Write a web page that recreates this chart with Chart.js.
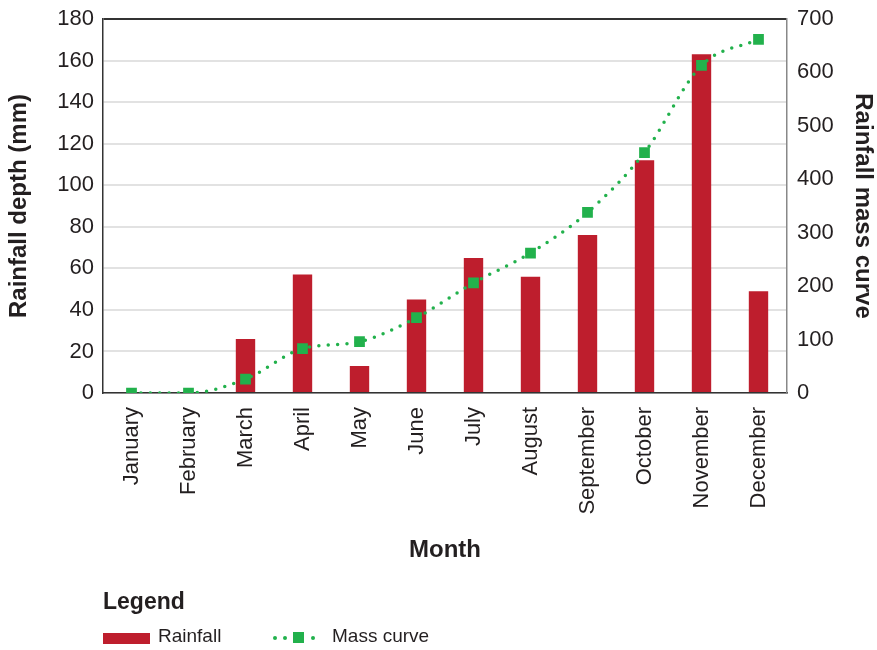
<!DOCTYPE html>
<html>
<head>
<meta charset="utf-8">
<script src="https://cdn.jsdelivr.net/npm/chart.js@4/dist/chart.umd.min.js"></script>
<style>
  body { margin: 0; background: #fff; }
  #wrap { position: relative; width: 877px; height: 650px; }
  #legend { position: absolute; left: 103px; top: 588px; font-family: "Liberation Sans", Arial, sans-serif; color: #231f20; }
  #legend h3 { margin: 0; font-size: 23px; font-weight: bold; }
  .item { position: absolute; top: 40px; white-space: nowrap; font-size: 19px; }
  .swatch { position: absolute; background: #be1e2d; width: 47px; height: 11px; top: 5px; left: 0; }
  .dot { position: absolute; width: 4px; height: 4px; border-radius: 50%; background: #22b14c; top: 8px; }
  .sq { position: absolute; width: 11px; height: 11px; background: #22b14c; top: 4px; }
</style>
</head>
<body>
<div id="wrap">
  <canvas id="chart1" width="877" height="650"></canvas>
  <div id="legend">
    <h3>Legend</h3>
    <div class="item" style="left:0">
      <span class="swatch"></span><span style="position:absolute;left:55px;top:-3px">Rainfall</span>
    </div>
    <div class="item" style="left:170px">
      <span class="dot" style="left:0"></span><span class="dot" style="left:10px"></span>
      <span class="dot" style="left:20px"></span><span class="sq" style="left:20px"></span>
      <span class="dot" style="left:38px"></span>
      <span style="position:absolute;left:59px;top:-3px">Mass curve</span>
    </div>
  </div>
</div>
<script>
// Monthly rainfall and its cumulative mass curve

const months = ['January', 'February', 'March', 'April', 'May', 'June',
    'July', 'August', 'September', 'October', 'November', 'December']
const rainfall = [0, 0, 26, 57, 13, 45, 65, 56, 76, 112, 163, 49]
const massCurve = [0, 0, 26, 83, 96, 141, 206, 262, 338, 450, 613, 662]

const red = '#be1e2d'
const green = '#22b14c'
const ink = '#231f20'
const tickFont = { family: '"Liberation Sans", Arial, sans-serif', size: 22 }
const titleFont = { family: '"Liberation Sans", Arial, sans-serif', size: 24, weight: 'bold' }

const ctx1 = document.getElementById('chart1').getContext('2d')

// fixed side widths so the plot area lines up with the axis titles
const fitSide = width => s => { s.width = width; s.paddingTop = 0 }

const rainChart = new Chart(ctx1, {
    data: {
        labels: months,
        datasets: [
            {
                type: 'line',
                label: 'Mass curve',
                data: massCurve,
                yAxisID: 'y1',
                borderColor: green,
                backgroundColor: green,
                borderWidth: 3.5,
                borderDash: [0, 9.4],
                borderCapStyle: 'round',
                cubicInterpolationMode: 'monotone',
                pointStyle: 'rect',
                pointRadius: 7.6,
                pointBorderWidth: 0,
                order: 0
            },
            {
                type: 'bar',
                label: 'Rainfall',
                data: rainfall,
                yAxisID: 'y',
                backgroundColor: red,
                barPercentage: 0.34,
                categoryPercentage: 1,
                order: 1
            }
        ]
    },
    options: {
        responsive: false,
        animation: false,
        layout: { padding: { top: 19, bottom: 85, left: 0, right: 0 } },
        plugins: { legend: { display: false }, tooltip: { enabled: false } },
        scales: {
            x: {
                grid: { display: false },
                border: { display: true, color: '#333', width: 1.5 },
                ticks: { color: ink, font: tickFont, minRotation: 90, maxRotation: 90, padding: 6 },
                title: { display: true, text: 'Month', color: ink, font: titleFont, padding: 0 },
                afterFit: s => { s.height = 650 - 85 - 393 }
            },
            y: {
                position: 'left',
                min: 0, max: 180,
                ticks: { stepSize: 20, color: ink, font: tickFont, padding: 9 },
                grid: {
                    drawTicks: false,
                    lineWidth: 2,
                    color: c => c.tick && c.tick.value === 180 ? '#333' : '#e2e2e2'
                },
                border: { color: '#333', width: 1.5 },
                title: { display: true, text: 'Rainfall depth (mm)', color: ink, font: titleFont, padding: { top: 5, bottom: 0 } },
                afterFit: fitSide(103)
            },
            y1: {
                position: 'right',
                min: 0, max: 700,
                ticks: { stepSize: 100, color: ink, font: tickFont, padding: 10 },
                grid: { drawOnChartArea: false, drawTicks: false },
                border: { color: '#888', width: 1.5 },
                title: { display: true, text: 'Rainfall mass curve', color: ink, font: titleFont, padding: { top: 0, bottom: 0 } },
                afterFit: fitSide(877 - 787)
            }
        }
    }
})
</script>
</body>
</html>
